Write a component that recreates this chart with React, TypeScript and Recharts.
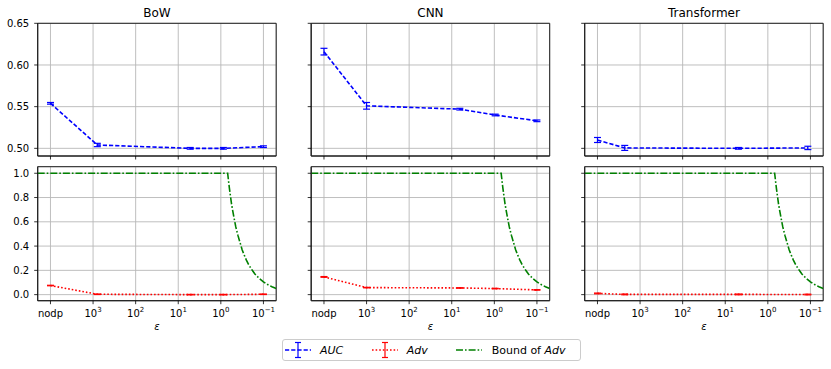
import React from 'react';
import { LineChart, Line, XAxis, YAxis, CartesianGrid, ErrorBar, ReferenceArea } from 'recharts';

// ---------- data ----------
const panelTitles = ['BoW', 'CNN', 'Transformer'];
const xTicks = [0, 1, 2, 3, 4, 5];
const xTickLabels = ['nodp', '10^3', '10^2', '10^1', '10^0', '10^−1'];
const aucTicks = [0.5, 0.55, 0.6, 0.65];
const advTicks = [0, 0.2, 0.4, 0.6, 0.8, 1.0];

const bowX = [0, 1.1, 3.28, 4.06, 5.0];
const bowAuc = [0.554, 0.504, 0.5, 0.5, 0.502];
const bowAucErr = [0.001, 0.002, 0.001, 0.001, 0.001];
const bowAdv = [0.075, 0.003, 0.0, 0.0, 0.003];
const bowAdvErr = [0.002, 0.002, 0.002, 0.002, 0.002];

const cnnX = [0, 1.0, 3.19, 4.02, 5.0];
const cnnAuc = [0.616, 0.551, 0.547, 0.54, 0.533];
const cnnAucErr = [0.004, 0.004, 0.001, 0.001, 0.001];
const cnnAdv = [0.146, 0.058, 0.055, 0.05, 0.039];
const cnnAdvErr = [0.003, 0.002, 0.002, 0.002, 0.002];

const trX = [0, 0.64, 3.31, 4.94];
const trAuc = [0.51, 0.5005, 0.5, 0.5005];
const trAucErr = [0.003, 0.003, 0.001, 0.002];
const trAdv = [0.01, 0.002, 0.002, 0.001];
const trAdvErr = [0.003, 0.003, 0.003, 0.003];

const boundX = [-0.3, 4.16, 4.2, 4.25, 4.3, 4.35, 4.4, 4.45, 4.5, 4.55, 4.6, 4.65, 4.7, 4.75, 4.8, 4.9, 5.0, 5.1, 5.2, 5.3];
const boundY = [1.0, 1.0, 0.88, 0.75, 0.65, 0.56, 0.49, 0.43, 0.37, 0.325, 0.285, 0.25, 0.22, 0.195, 0.17, 0.134, 0.105, 0.083, 0.065, 0.051];

// ---------- layout ----------
const W = 831;
const H = 369;
const colX = [37.7, 311.2, 584.7];
const plotW = 238.5;
const rowY = [23.3, 166.7];
const rowH = [132.7, 134];
const xDomain = [-0.3, 5.3];
const aucDomain = [0.4908, 0.65];
const advDomain = [-0.05, 1.054];
const FONT = "'DejaVu Sans', sans-serif";
const LW = 1.6;
const DASHED = '4.2 2';
const DOTTED = '1.6 2';
const DASHDOT = '7 2 1.6 2';

const zip = (xs: number[], ys: number[], es: number[]) => xs.map((x, i) => ({ x, y: ys[i], e: es[i] }));
const boundData = boundX.map((x, i) => ({ x, y: boundY[i] }));

const panels = [
  { auc: zip(bowX, bowAuc, bowAucErr), adv: zip(bowX, bowAdv, bowAdvErr) },
  { auc: zip(cnnX, cnnAuc, cnnAucErr), adv: zip(cnnX, cnnAdv, cnnAdvErr) },
  { auc: zip(trX, trAuc, trAucErr), adv: zip(trX, trAdv, trAdvErr) },
];

const XTick = (props: any) => {
  const { x, y, payload, showLabel } = props;
  if (!showLabel) return <g />;
  const idx = xTicks.indexOf(payload.value);
  const label = xTickLabels[idx] ?? '';
  if (!label.includes('^')) {
    return (
      <text x={x} y={y + 9.5} textAnchor="middle" fontSize={10} fill="#000" fontFamily={FONT}>
        {label}
      </text>
    );
  }
  const [base, exp] = label.split('^');
  return (
    <text x={x} y={y + 9.5} textAnchor="middle" fontSize={10} fill="#000" fontFamily={FONT}>
      <tspan>{base}</tspan>
      <tspan dy={-4.5} fontSize={7}>{exp}</tspan>
    </text>
  );
};

const YTick = (props: any) => {
  const { x, y, payload, showLabel, fmt } = props;
  if (!showLabel) return <g />;
  return (
    <text x={x} y={y} dy={3.6} textAnchor="end" fontSize={10} fill="#000" fontFamily={FONT}>
      {fmt(payload.value)}
    </text>
  );
};

function Panel({ col, row }: { col: number; row: number }) {
  const x0 = colX[col];
  const y0 = rowY[row];
  const h = rowH[row];
  const yAxisW = 30;
  const xAxisH = 20;
  const margin = {
    left: x0 - yAxisW,
    top: y0,
    right: W - x0 - plotW,
    bottom: H - y0 - h - xAxisH,
  };
  const isTop = row === 0;
  const yDomain = isTop ? aucDomain : advDomain;
  const yTicks = isTop ? aucTicks : advTicks;
  const fmt = isTop ? (v: number) => v.toFixed(2) : (v: number) => v.toFixed(1);
  const p = panels[col];
  return (
    <div style={{ position: 'absolute', left: 0, top: 0 }}>
      <LineChart width={W} height={H} margin={margin}>
        <CartesianGrid stroke="#b8b8b8" strokeWidth={0.9} />
        <XAxis
          dataKey="x"
          type="number"
          domain={xDomain}
          ticks={xTicks}
          allowDataOverflow
          height={xAxisH}
          stroke="#000"
          strokeWidth={0.8}
          tickSize={3.5}
          tickMargin={3}
          tickLine={{ stroke: '#000', strokeWidth: 0.8 }}
          axisLine={{ stroke: '#222', strokeWidth: 1 }}
          tick={(tp: any) => <XTick {...tp} showLabel={!isTop} />}
          interval={0}
        />
        <YAxis
          type="number"
          domain={yDomain}
          ticks={yTicks}
          allowDataOverflow
          width={yAxisW}
          tickSize={3.5}
          tickMargin={5}
          tickLine={{ stroke: '#000', strokeWidth: 0.8 }}
          axisLine={{ stroke: '#222', strokeWidth: 1 }}
          tick={(tp: any) => <YTick {...tp} showLabel={col === 0} fmt={fmt} />}
          interval={0}
        />
        <ReferenceArea
          x1={xDomain[0]}
          x2={xDomain[1]}
          y1={yDomain[0]}
          y2={yDomain[1]}
          fill="none"
          fillOpacity={0}
          stroke="#222"
          strokeWidth={1}
          ifOverflow="visible"
        />
        {isTop ? (
          <Line
            data={p.auc}
            dataKey="y"
            type="linear"
            stroke="#0000ff"
            strokeWidth={LW}
            strokeDasharray={DASHED}
            dot={false}
            isAnimationActive={false}
          >
            <ErrorBar dataKey="e" width={3.5} stroke="#0000ff" strokeWidth={1.2} direction="y" isAnimationActive={false} />
          </Line>
        ) : null}
        {!isTop ? (
          <Line
            data={p.adv}
            dataKey="y"
            type="linear"
            stroke="#ff0000"
            strokeWidth={LW}
            strokeDasharray={DOTTED}
            dot={false}
            isAnimationActive={false}
          >
            <ErrorBar dataKey="e" width={3.5} stroke="#ff0000" strokeWidth={1.2} direction="y" isAnimationActive={false} />
          </Line>
        ) : null}
        {!isTop ? (
          <Line
            data={boundData}
            dataKey="y"
            type="linear"
            stroke="#008000"
            strokeWidth={LW}
            strokeDasharray={DASHDOT}
            dot={false}
            isAnimationActive={false}
          />
        ) : null}
      </LineChart>
    </div>
  );
}

const LegendIcon = ({ color, dash, bar }: { color: string; dash: string; bar: boolean }) => (
  <svg width={26} height={18} style={{ position: 'absolute', left: 0, top: -9, overflow: 'visible' }}>
    <line x1={0} y1={9} x2={26} y2={9} stroke={color} strokeWidth={LW} strokeDasharray={dash} />
    {bar ? (
      <g stroke={color} strokeWidth={1.2}>
        <line x1={13} y1={1.5} x2={13} y2={16.5} />
        <line x1={10} y1={1.5} x2={16} y2={1.5} />
        <line x1={10} y1={16.5} x2={16} y2={16.5} />
      </g>
    ) : null}
  </svg>
);

export default function App() {
  const textStyle: React.CSSProperties = {
    position: 'absolute',
    fontFamily: FONT,
    color: '#000',
    whiteSpace: 'nowrap',
    lineHeight: 1,
  };
  return (
    <div style={{ position: 'absolute', left: 0, top: 0, width: W, height: H, background: '#fff', overflow: 'hidden' }}>
      {[0, 1, 2].map((c) => (
        <React.Fragment key={c}>
          <Panel col={c} row={0} />
          <Panel col={c} row={1} />
          <div
            style={{
              ...textStyle,
              left: colX[c] + plotW / 2,
              top: 12.7,
              fontSize: 12,
              transform: 'translate(-50%, -50%)',
            }}
          >
            {panelTitles[c]}
          </div>
          <div
            style={{
              ...textStyle,
              left: colX[c] + plotW / 2,
              top: 326.5,
              fontSize: 10,
              fontStyle: 'italic',
              transform: 'translate(-50%, -50%)',
            }}
          >
            ε
          </div>
        </React.Fragment>
      ))}
      <div
        style={{
          position: 'absolute',
          left: 281.7,
          top: 339,
          width: 299,
          height: 22,
          border: '1px solid #cccccc',
          borderRadius: 3,
          background: '#fff',
          boxSizing: 'border-box',
        }}
      />
      <div style={{ position: 'absolute', left: 285, top: 349.5 }}>
        <LegendIcon color="#0000ff" dash={DASHED} bar />
      </div>
      <div style={{ ...textStyle, left: 320, top: 349.5, fontSize: 11, fontStyle: 'italic', transform: 'translateY(-50%)' }}>AUC</div>
      <div style={{ position: 'absolute', left: 372, top: 349.5 }}>
        <LegendIcon color="#ff0000" dash={DOTTED} bar />
      </div>
      <div style={{ ...textStyle, left: 406.7, top: 349.5, fontSize: 11, fontStyle: 'italic', transform: 'translateY(-50%)' }}>Adv</div>
      <div style={{ position: 'absolute', left: 456, top: 349.5 }}>
        <LegendIcon color="#008000" dash={DASHDOT} bar={false} />
      </div>
      <div style={{ ...textStyle, left: 491.7, top: 349.5, fontSize: 11, transform: 'translateY(-50%)' }}>
        Bound of <span style={{ fontStyle: 'italic' }}>Adv</span>
      </div>
    </div>
  );
}
